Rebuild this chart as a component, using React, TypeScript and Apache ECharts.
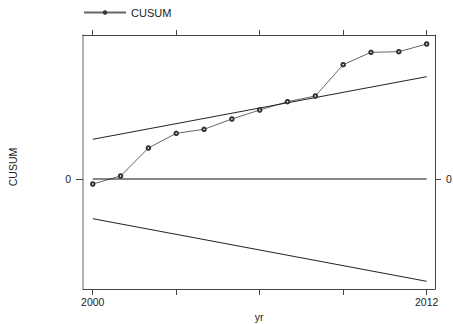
import React, { useEffect, useRef } from "react";
import * as echarts from "echarts";

const years = [2000, 2001, 2002, 2003, 2004, 2005, 2006, 2007, 2008, 2009, 2010, 2011, 2012];
const cusum = [-0.5, 0.3, 3.1, 4.57, 4.97, 6.0, 6.9, 7.73, 8.3, 11.43, 12.67, 12.73, 13.5];
const upperBand = [3.97, 10.23];
const lowerBand = [-3.97, -10.23];
const bandYears = [2000, 2012];
const xTicks = [2000, 2003, 2006, 2009, 2012];
const xLabels = [2000, 2012];
const yTicks = [0];

const FONT = "Liberation Sans, Arial, sans-serif";

export default function App() {
  const ref = useRef<HTMLDivElement>(null);
  useEffect(() => {
    if (!ref.current) return;
    const chart = echarts.init(ref.current, undefined, { renderer: "svg" });
    const xMin = 1999.65;
    const xMax = 2012.3;
    const yMin = -11;
    const yMax = 14.4;
    const axisColor = "#444";
    const textColor = "#222";
    chart.setOption({
      animation: false,
      backgroundColor: "#fff",
      textStyle: { fontFamily: FONT },
      legend: {
        data: ["CUSUM"],
        left: 83,
        top: 7,
        padding: 0,
        itemWidth: 42,
        itemHeight: 3,
        textStyle: { fontSize: 11, color: textColor, fontFamily: FONT },
      },
      grid: { left: 83, right: 18, top: 35, bottom: 35, containLabel: false, outerBoundsMode: "none" },
      xAxis: [
        {
          type: "value",
          position: "bottom",
          min: xMin,
          max: xMax,
          name: "yr",
          nameLocation: "middle",
          nameGap: 19,
          nameTextStyle: { fontSize: 10.5, color: textColor, fontFamily: FONT },
          axisLine: { show: true, onZero: false, lineStyle: { color: axisColor, width: 1 } },
          axisTick: { show: true, length: 6, customValues: xTicks, lineStyle: { color: axisColor } },
          axisLabel: {
            show: true,
            customValues: xLabels,
            fontSize: 10.5,
            color: textColor,
            margin: 7,
            fontFamily: FONT,
            formatter: (v: number) => String(Math.round(v)),
          },
          splitLine: { show: false },
        },
        {
          type: "value",
          position: "top",
          min: xMin,
          max: xMax,
          axisLine: { show: true, onZero: false, lineStyle: { color: axisColor, width: 1 } },
          axisTick: { show: true, length: 5, customValues: xTicks, lineStyle: { color: axisColor } },
          axisLabel: { show: false },
          splitLine: { show: false },
        },
      ],
      yAxis: [
        {
          type: "value",
          position: "left",
          min: yMin,
          max: yMax,
          axisLine: { show: true, onZero: false, lineStyle: { color: "#999", width: 1.5 } },
          axisTick: { show: true, length: 7, customValues: yTicks, lineStyle: { color: axisColor } },
          axisLabel: { show: true, customValues: yTicks, fontSize: 10.5, color: textColor, margin: 12, fontFamily: FONT },
          splitLine: { show: false },
        },
        {
          type: "value",
          position: "right",
          min: yMin,
          max: yMax,
          axisLine: { show: true, onZero: false, lineStyle: { color: axisColor, width: 1 } },
          axisTick: { show: true, length: 6, customValues: yTicks, lineStyle: { color: axisColor } },
          axisLabel: { show: true, customValues: yTicks, fontSize: 10.5, color: textColor, margin: 11, fontFamily: FONT },
          splitLine: { show: false },
        },
      ],
      graphic: [
        {
          type: "text",
          x: 13,
          y: 167,
          rotation: Math.PI / 2,
          style: {
            text: "CUSUM",
            fill: textColor,
            fontSize: 10.5,
            fontFamily: FONT,
            textAlign: "center",
            textVerticalAlign: "middle",
          },
        },
      ],
      series: [
        {
          name: "CUSUM",
          type: "line",
          data: years.map((y, i) => [y, cusum[i]]),
          symbol: "emptyCircle",
          symbolSize: 3.5,
          lineStyle: { color: "#666", width: 1 },
          itemStyle: { color: "#333", borderWidth: 1 },
        },
        {
          name: "zero",
          type: "line",
          data: bandYears.map((y) => [y, 0]),
          symbol: "none",
          lineStyle: { color: "#111", width: 1 },
          silent: true,
        },
        {
          name: "upper",
          type: "line",
          data: bandYears.map((y, i) => [y, upperBand[i]]),
          symbol: "none",
          lineStyle: { color: "#222", width: 1 },
          silent: true,
        },
        {
          name: "lower",
          type: "line",
          data: bandYears.map((y, i) => [y, lowerBand[i]]),
          symbol: "none",
          lineStyle: { color: "#222", width: 1 },
          silent: true,
        },
      ],
    });
    return () => chart.dispose();
  }, []);
  return (
    <div
      ref={ref}
      style={{ position: "absolute", left: 0, top: 0, width: 453, height: 324 }}
    />
  );
}
